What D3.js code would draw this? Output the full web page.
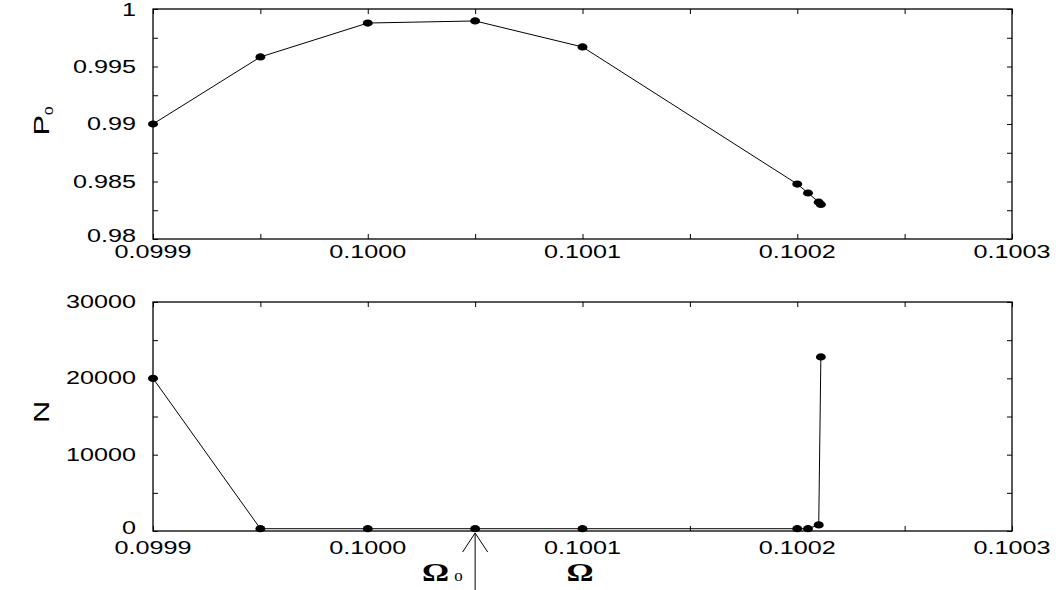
<!DOCTYPE html>
<html>
<head>
<meta charset="utf-8">
<script src="https://cdn.jsdelivr.net/npm/d3@7"></script>
<style>
  body { margin: 0; background: #fff; }
  svg text { font-family: "Liberation Sans", Arial, sans-serif; fill: #000; }
</style>
</head>
<body>
<div id="container"></div>
<script>
// values
var omega  = [0.0999, 0.09995, 0.1000, 0.10005, 0.1001, 0.1002, 0.100205, 0.10021, 0.100211];
var p0     = [0.9900, 0.99583, 0.99878, 0.99896, 0.99670, 0.98478, 0.98400, 0.98320, 0.98300];
var nSteps = [20000, 300, 300, 300, 300, 300, 300, 800, 22800];

var xTickLabels  = ["0.0999", "0.1000", "0.1001", "0.1002", "0.1003"];
var pTickLabels  = ["0.98", "0.985", "0.99", "0.995", "1"];
var nTickLabels  = ["0", "10000", "20000", "30000"];

var WIDTH = 1056, HEIGHT = 590,
    LEFT = 153, RIGHT = 1012,
    SX = 1.4; // glyphs in the original are stretched along the text direction

var svg = d3.select('#container').append('svg')
    .attr('width', WIDTH).attr('height', HEIGHT);

var x = d3.scaleLinear().domain([0.0999, 0.1003]).range([LEFT, RIGHT]);
var xMinor = d3.range(0, 9).map(function(i) { return 0.0999 + i * 0.00005; });

function label(g, txt, tx, ty, anchor) {
    return g.append('text')
        .attr('transform', 'translate(' + tx + ',' + ty + ') scale(' + SX + ',1)')
        .attr('text-anchor', anchor)
        .attr('dominant-baseline', 'central')
        .style('font-size', '18px')
        .text(txt);
}

function panel(top, bottom, yDomain, yMinor, yLabels, yValues, labelGap) {
    var y = d3.scaleLinear().domain(yDomain).range([bottom, top]);
    var g = svg.append('g');

    // inward ticks on all four sides
    g.append('g').attr('transform', 'translate(0,' + bottom + ')')
        .call(d3.axisBottom(x).tickValues(xMinor).tickSizeInner(-5).tickSizeOuter(0).tickFormat(''));
    g.append('g').attr('transform', 'translate(0,' + top + ')')
        .call(d3.axisTop(x).tickValues(xMinor).tickSizeInner(-5).tickSizeOuter(0).tickFormat(''));
    g.append('g').attr('transform', 'translate(' + LEFT + ',0)')
        .call(d3.axisLeft(y).tickValues(yMinor).tickSizeInner(-5).tickSizeOuter(0).tickFormat(''));
    g.append('g').attr('transform', 'translate(' + RIGHT + ',0)')
        .call(d3.axisRight(y).tickValues(yMinor).tickSizeInner(-5).tickSizeOuter(0).tickFormat(''));
    g.selectAll('.domain').remove();
    g.selectAll('.tick line').attr('stroke', '#000').attr('stroke-width', 1);

    g.append('rect')
        .attr('x', LEFT).attr('y', top)
        .attr('width', RIGHT - LEFT).attr('height', bottom - top)
        .attr('fill', 'none').attr('stroke', '#000').attr('stroke-width', 1.3);

    yLabels.forEach(function(t) {
        // keep the top label inside the picture, pull the lowest one up a little
        var ty = Math.max(y(+t), 10);
        if (+t === yDomain[0]) ty -= 3;
        label(g, t, 136, ty, 'end');
    });
    xTickLabels.forEach(function(t) {
        label(g, t, x(+t), bottom + labelGap, 'middle');
    });

    var line = d3.line()
        .x(function(d, i) { return x(omega[i]); })
        .y(function(d) { return y(d); });
    g.append('path').datum(yValues)
        .attr('d', line)
        .attr('fill', 'none').attr('stroke', '#000').attr('stroke-width', 1);

    g.selectAll('ellipse').data(yValues).enter().append('ellipse')
        .attr('cx', function(d, i) { return x(omega[i]); })
        .attr('cy', function(d) { return y(d); })
        .attr('rx', 5).attr('ry', 3.6)
        .attr('fill', '#000');
    return g;
}

panel(9, 239, [0.98, 1], d3.range(0, 9).map(function(i) { return 0.98 + i * 0.0025; }),
      pTickLabels, p0, 13);
panel(302, 531, [0, 30000], d3.range(0, 7).map(function(i) { return i * 5000; }),
      nTickLabels, nSteps, 17);

// axis titles
var pt = svg.append('text')
    .attr('transform', 'translate(49,121) rotate(-90) scale(' + SX + ',1)')
    .attr('text-anchor', 'middle')
    .style('font-size', '22px');
pt.append('tspan').text('P');
pt.append('tspan').attr('dy', 4).style('font-size', '11px').text('0');

svg.append('text')
    .attr('transform', 'translate(49,412) rotate(-90) scale(' + SX + ',1)')
    .attr('text-anchor', 'middle')
    .style('font-size', '22px')
    .text('N');

// Omega labels and arrow
var serif = '"Liberation Serif", "DejaVu Serif", serif';
var ax = x(0.10005);
svg.append('path')
    .attr('d', 'M' + ax + ',590 L' + ax + ',533 M' + (ax - 12.5) + ',552 L' + ax + ',533 L' + (ax + 12.5) + ',552')
    .attr('fill', 'none').attr('stroke', '#000').attr('stroke-width', 1);

var o0 = svg.append('text')
    .attr('transform', 'translate(422,581) scale(1.3,1)')
    .style('font-family', serif).style('font-weight', 'bold').style('font-size', '26px');
o0.append('tspan').text('Ω');
o0.append('tspan').attr('dx', 4).style('font-size', '13px').style('font-weight', 'normal').text('0');

svg.append('text')
    .attr('transform', 'translate(580,581) scale(1.3,1)')
    .attr('text-anchor', 'middle')
    .style('font-family', serif).style('font-weight', 'bold').style('font-size', '26px')
    .text('Ω');
</script>
</body>
</html>
